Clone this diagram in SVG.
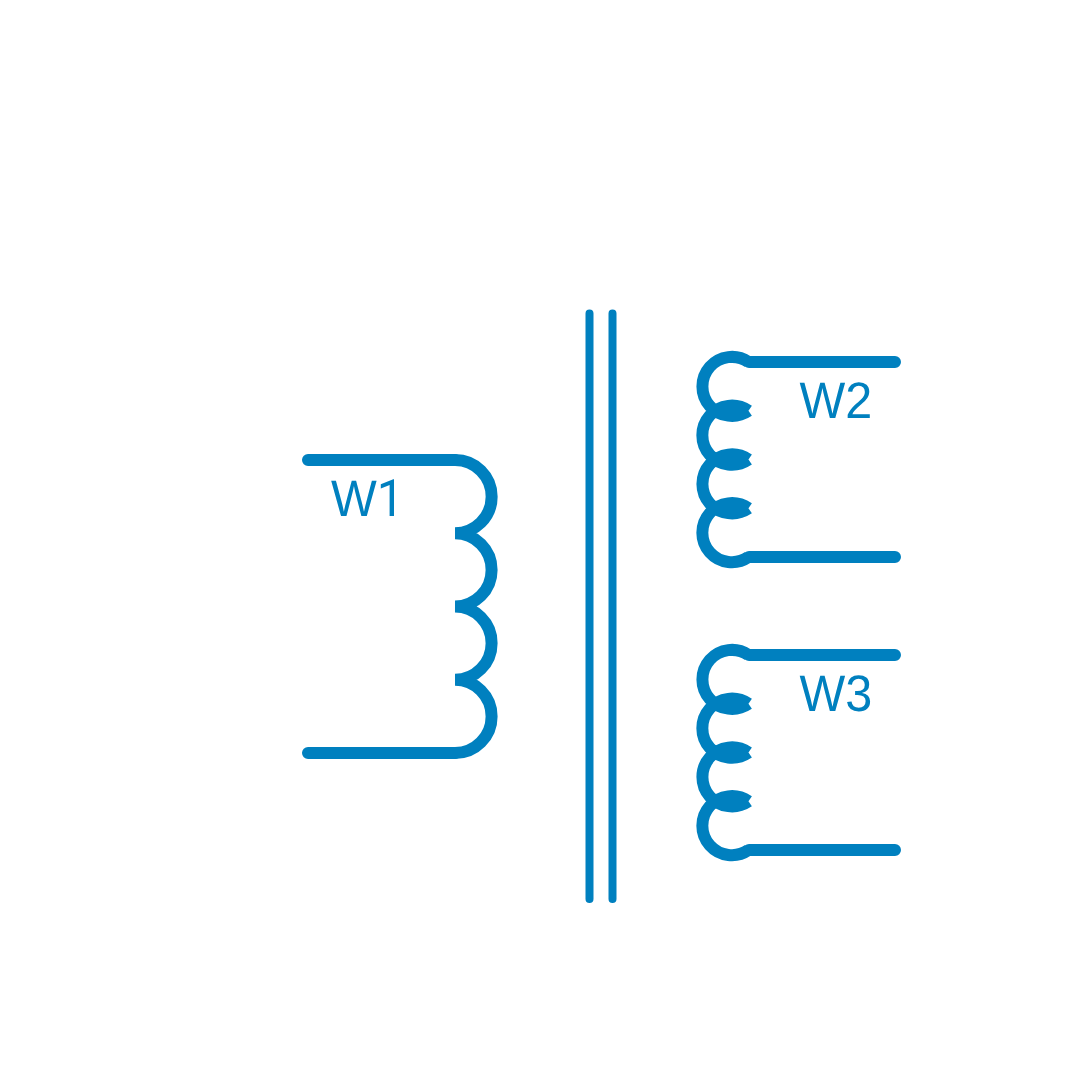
<svg xmlns="http://www.w3.org/2000/svg" width="1080" height="1080" viewBox="0 0 1080 1080">
<style>
.w{fill:none;stroke:#0080bf;stroke-width:12}
.r{fill:none;stroke:#0080bf;stroke-width:12;stroke-linecap:round}
.c{fill:none;stroke:#0080bf;stroke-width:8;stroke-linecap:round}
text{font-family:"Liberation Sans",Arial,sans-serif;font-size:48.500px;fill:#0080bf;text-rendering:geometricPrecision}
.one{font-family:Roboto,"Liberation Sans",sans-serif}
</style>
<rect width="1080" height="1080" fill="#ffffff"/>
<g id="connectors">
<path class="c" d="M589.500 313.500V899M612.500 313.500V899"/>
<path class="r" d="M308 460H455M308 753H455"/>
<path class="r" d="M749 362H895M749 557H895M749 655H895M749 850H895"/>
</g>
<g id="W1">
<path class="w" d="M455 460A36.650 36.650 0 0 1 455 533.300M455 533.300A36.600 36.600 0 0 1 455 606.500M455 606.500A36.650 36.650 0 0 1 455 679.800M455 679.800A36.600 36.600 0 0 1 455 753"/>
<text transform="translate(331 515.700) scale(1 1.060)">W<tspan class="one">1</tspan></text>
</g>
<g id="W2">
<path class="w" d="M748.500 362A29.500 29.500 0 1 0 748.500 410.800M748.500 410.800A29.500 29.500 0 1 0 748.500 459.500M748.500 459.500A29.500 29.500 0 1 0 748.500 508.300M748.500 508.300A29.500 29.500 0 1 0 748.500 557"/>
<text transform="translate(799.500 418.300) scale(1 1.060)">W2</text>
</g>
<g id="W3">
<path class="w" d="M748.500 655A29.500 29.500 0 1 0 748.500 703.800M748.500 703.800A29.500 29.500 0 1 0 748.500 752.500M748.500 752.500A29.500 29.500 0 1 0 748.500 801.300M748.500 801.300A29.500 29.500 0 1 0 748.500 850"/>
<text transform="translate(799.500 711.300) scale(1 1.060)">W3</text>
</g>
</svg>
